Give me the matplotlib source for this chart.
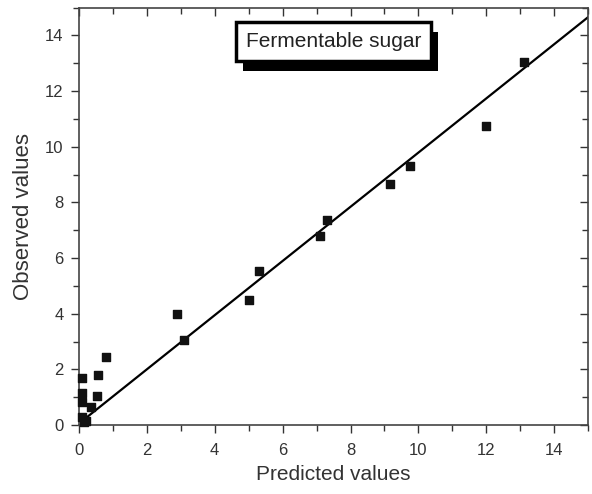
import numpy as np
import matplotlib
matplotlib.use('Agg')
import matplotlib.pyplot as plt
import matplotlib.patheffects as pe
from matplotlib.ticker import MultipleLocator

plt.rcParams['font.family'] = ['Liberation Sans', 'DejaVu Sans']

# data
predicted = [0.08, 0.08, 0.10, 0.10, 0.15, 0.20, 0.35, 0.52, 0.56, 0.81,
             2.90, 3.10, 5.00, 5.30, 7.10, 7.30, 9.15, 9.75, 12.00, 13.10]
observed = [1.70, 1.15, 0.84, 0.30, 0.10, 0.15, 0.64, 1.04, 1.80, 2.46,
            4.00, 3.05, 4.50, 5.55, 6.80, 7.35, 8.65, 9.30, 10.75, 13.05]
fit_x = [0.1, 15.2]
fit_y = [0.15, 14.85]

fig = plt.figure(figsize=(5.92, 4.94), dpi=100)
ax = fig.add_axes([0.1334, 0.1397, 0.860, 0.845])

ax.plot(fit_x, fit_y, color='black', lw=1.6)
ax.scatter(predicted, observed, marker='s', s=28, color='#111111', zorder=3, clip_on=False)

ax.set_xlim(0, 15)
ax.set_ylim(0, 15)
for a in [ax.xaxis, ax.yaxis]:
    a.set_major_locator(MultipleLocator(2))
    a.set_minor_locator(MultipleLocator(1))
ax.tick_params(which='both', direction='out', labelsize=12, labelcolor='#333333', color='#333333')
ax.tick_params(which='major', length=6, width=1)
ax.tick_params(which='minor', length=4, width=1)
ax.tick_params(axis='x', pad=7)
ax.tick_params(axis='y', pad=5)

# inward ticks on top and right
top = ax.secondary_xaxis('top')
right = ax.secondary_yaxis('right')
for sec in [top, right]:
    sec.set_ticks(np.arange(0, 16, 2), labels=[])
    sec.set_ticks(np.arange(1, 16, 2), minor=True)
    sec.tick_params(which='both', direction='in', color='#333333')
    sec.tick_params(which='major', length=6, width=1)
    sec.tick_params(which='minor', length=4, width=1)
    for sp in sec.spines.values():
        sp.set_visible(False)

for sp in ax.spines.values():
    sp.set_linewidth(1.2)
    sp.set_color('#444444')

ax.set_xlabel('Predicted values', fontsize=15, color='#333333', labelpad=5)
ax.set_ylabel('Observed values', fontsize=16, color='#333333', labelpad=8)

t = ax.text(0.50, 0.918, 'Fermentable sugar', transform=ax.transAxes, ha='center', va='center',
            fontsize=15, color='#222222',
            bbox=dict(boxstyle='square,pad=0.48', fc='white', ec='black', lw=2.5))
t.get_bbox_patch().set_path_effects([pe.SimplePatchShadow(offset=(5, -7), shadow_rgbFace='black', alpha=1),
                                      pe.Normal()])

fig.savefig('out.png', dpi=100)
